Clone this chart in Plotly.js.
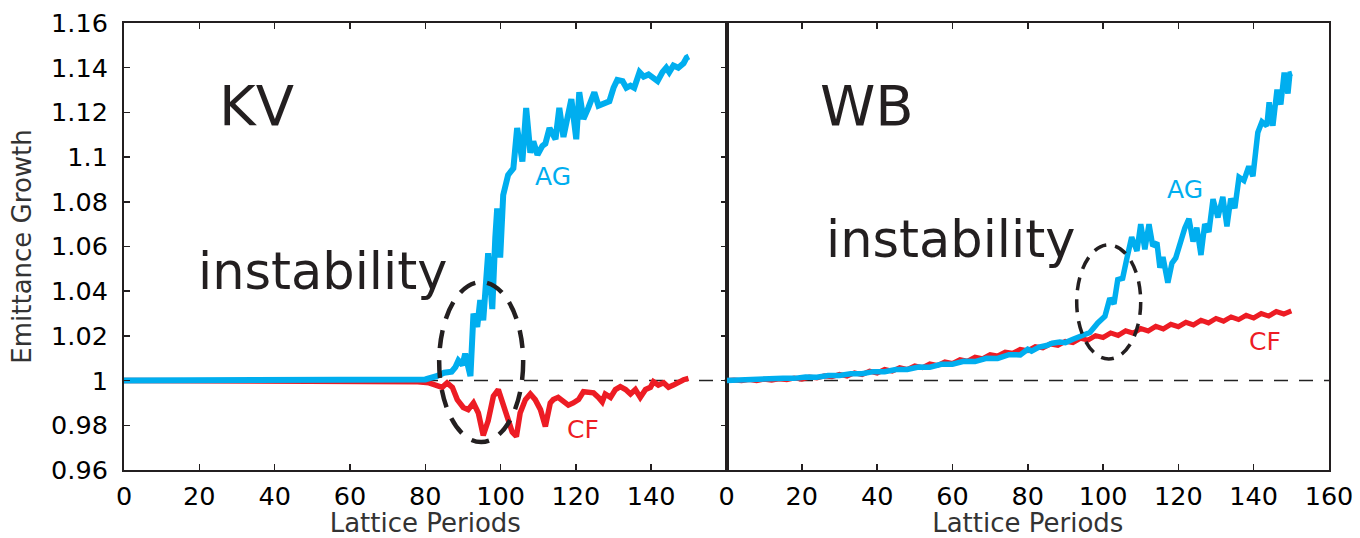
<!DOCTYPE html>
<html>
<head>
<meta charset="utf-8">
<script src="https://cdn.plot.ly/plotly-3.0.1.min.js"></script>
<style>html,body{margin:0;padding:0;background:#fff;}#chart{width:1360px;height:538px;}</style>
</head>
<body>
<div id="chart"></div>
<script>
// ---- KV panel ----
const kvAgX = [0,20,40,60,75,80,83,85,87,88,88.8,89.9,90.6,91.2,92,92.8,93.8,94.6,95.4,96.7,97.8,98.6,99.1,99.9,100.7,102,103.4,104.4,105.8,106.8,107.9,108.7,109.8,111.1,111.9,113,114.6,115.6,116.7,118.8,120.1,120.9,122,123.3,124.9,126,127.3,128.9,130,131,132.4,133.4,134.5,135.5,136.9,138,139.3,140.6,141.7,143,144,144.8,145.9,147.2,148.6,149.4,150];
const kvAgY = [1,1,1,1,1.0003,1.0005,1.002,1.0035,1.004,1.006,1.009,1.007,1.012,1.007,1.002,1.030,1.024,1.036,1.027,1.057,1.032,1.064,1.077,1.055,1.083,1.092,1.095,1.113,1.098,1.122,1.102,1.107,1.101,1.105,1.106,1.113,1.108,1.122,1.109,1.126,1.108,1.129,1.117,1.122,1.129,1.123,1.124,1.125,1.131,1.1345,1.134,1.131,1.132,1.131,1.138,1.136,1.137,1.135,1.134,1.138,1.140,1.138,1.141,1.140,1.142,1.1445,1.145];
const kvCfX = [0,40,78,81,83,84.5,85.8,87.2,88.5,90.1,91.4,92.8,94.1,95.4,96.7,98.1,99.4,100.7,101.8,103.1,104.2,105.2,106.6,107.9,109.2,110.6,111.9,113.2,114,115.3,116.7,118,119.3,120.7,122,123.3,124.7,126,127,127.8,129.2,130.5,131.8,133.2,134.5,135.8,137.1,138.5,139.8,140.6,141.9,143.3,144.6,145.9,147.2,148.6,149.9];
const kvCfY = [1,1,0.9995,0.999,0.998,0.997,0.999,0.997,0.9915,0.988,0.987,0.990,0.9855,0.9755,0.982,0.993,0.996,0.990,0.9837,0.977,0.975,0.9855,0.9915,0.994,0.9915,0.987,0.9795,0.990,0.9915,0.9925,0.9905,0.989,0.990,0.9915,0.995,0.9945,0.9945,0.9925,0.9905,0.994,0.9925,0.996,0.9973,0.996,0.994,0.996,0.9925,0.996,0.997,0.9995,0.998,0.999,0.997,0.998,0.9995,1.0004,1.001];

// ---- WB panel ----
const wbCfX = [0,2,4,6,8,10,12,14,16,18,20,22,24,26,28,30,32,34,36,38,40,42,44,46,48,50,52,54,56,58,60,62,64,66,68,70,72,74,76,78,80,82,84,86,88,90,92,94,96,98,100,102,104,106,108,110,112,114,116,118,120,122,124,126,128,130,132,134,136,138,140,142,144,146,148,150];
const wbCfY = [1.0000,1.0003,0.9999,1.0005,1.0000,1.0006,1.0002,1.0008,1.0004,1.0011,1.0006,1.0016,1.0012,1.0021,1.0017,1.0028,1.0020,1.0035,1.0027,1.0042,1.0034,1.0050,1.0042,1.0058,1.0050,1.0066,1.0058,1.0075,1.0068,1.0084,1.0077,1.0094,1.0087,1.0105,1.0098,1.0116,1.0110,1.0128,1.0122,1.0140,1.0134,1.0152,1.0146,1.0164,1.0158,1.0176,1.0170,1.0189,1.0181,1.0201,1.0193,1.0213,1.0202,1.0223,1.0212,1.0233,1.0222,1.0243,1.0231,1.0252,1.0241,1.0261,1.0249,1.0270,1.0258,1.0278,1.0266,1.0285,1.0273,1.0292,1.0280,1.0300,1.0289,1.0309,1.0298,1.0312];
const wbAgX = [0,3,6,9,12,15,18,21,24,27,30,33,36,39,42,45,48,51,54,57,60,63,66,69,72,75,78,80,81,83,85,86.5,88.5,90,92,94.4,96.5,98.6,100.5,101.8,102.9,103.9,105.2,106.3,107.6,109,110,111.1,112.2,113.2,114.3,115.1,115.9,117.2,118.3,119.3,120.7,121.7,122.8,123.9,124.9,126,127,128.1,129.2,130.5,131.8,132.9,133.9,135,136.1,137.4,138.7,139.8,141.1,142.2,143.5,144.1,145.1,146.2,147.2,148.1,149.1,149.6,150.2];
const wbAgY = [1.0000,1.0003,1.0003,1.0007,1.0006,1.0011,1.0010,1.0016,1.0015,1.0023,1.0023,1.0031,1.0031,1.0040,1.0040,1.0050,1.0050,1.0061,1.0060,1.0073,1.0073,1.0086,1.0085,1.0100,1.0099,1.0116,1.0115,1.0140,1.0132,1.0150,1.0157,1.0167,1.0173,1.0170,1.0185,1.0202,1.0215,1.0258,1.0288,1.0368,1.0343,1.0452,1.0458,1.0545,1.0642,1.0580,1.0700,1.0588,1.0700,1.0602,1.0618,1.0505,1.0553,1.0438,1.0526,1.0549,1.0638,1.0682,1.0724,1.0622,1.0684,1.0562,1.0700,1.0665,1.0812,1.0730,1.0822,1.0690,1.0814,1.0772,1.0910,1.0895,1.0958,1.0915,1.1110,1.1158,1.1140,1.1245,1.1140,1.1302,1.1235,1.1378,1.1285,1.1372,1.1375];

// ---- ticks ----
const xTicksLeft = [0,20,40,60,80,100,120,140];
const xTicksRight = [0,20,40,60,80,100,120,140,160];
const yTickVals = [0.96,0.98,1.00,1.02,1.04,1.06,1.08,1.10,1.12,1.14,1.16];
const yTickText = ['0.96','0.98','1','1.02','1.04','1.06','1.08','1.1','1.12','1.14','1.16'];

const BLUE = '#00AEEF', RED = '#ED1C24', INK = '#231F20';
const FONT = 'DejaVu Sans, Verdana, sans-serif';

const traces = [
  {x: kvCfX, y: kvCfY, xaxis:'x', yaxis:'y', mode:'lines', line:{color:RED, width:5.5}, hoverinfo:'skip'},
  {x: kvAgX, y: kvAgY, xaxis:'x', yaxis:'y', mode:'lines', line:{color:BLUE, width:6}, hoverinfo:'skip'},
  {x: wbCfX, y: wbCfY, xaxis:'x2', yaxis:'y2', mode:'lines', line:{color:RED, width:5}, hoverinfo:'skip'},
  {x: wbAgX, y: wbAgY, xaxis:'x2', yaxis:'y2', mode:'lines', line:{color:BLUE, width:5.5}, hoverinfo:'skip'}
];

const xCommon = {
  range:[0,160], ticks:'inside', ticklen:6, tickwidth:1.5, tickcolor:INK,
  showline:true, linewidth:2, linecolor:INK, mirror:'ticks', showgrid:false, zeroline:false,
  tickfont:{family:FONT, size:25.5, color:'#000'}, ticklabelstandoff:2,
  title:{text:'Lattice Periods', font:{family:FONT, size:26, color:'#333'}, standoff:4}
};

const layout = {
  width:1360, height:538,
  margin:{l:124, r:31, t:23, b:68},
  paper_bgcolor:'#fff', plot_bgcolor:'#fff',
  showlegend:false,
  font:{family:FONT},
  xaxis: Object.assign({}, xCommon, {domain:[0,0.5], anchor:'y', tickvals:xTicksLeft}),
  xaxis2: Object.assign({}, xCommon, {domain:[0.5,1], anchor:'y2', tickvals:xTicksRight}),
  yaxis: {
    domain:[0,1], anchor:'x', range:[0.96,1.16], tickvals:yTickVals, ticktext:yTickText,
    ticks:'inside', ticklen:6, tickwidth:1.5, tickcolor:INK,
    showline:true, linewidth:2, linecolor:INK, mirror:'ticks', showgrid:false, zeroline:false,
    tickfont:{family:FONT, size:25.5, color:'#000'}, ticklabelstandoff:9,
    title:{text:'Emittance Growth', font:{family:FONT, size:26, color:'#333'}, standoff:12}
  },
  yaxis2: {
    domain:[0,1], anchor:'x2', range:[0.96,1.16], showticklabels:false, ticks:'',
    showline:true, linewidth:2, linecolor:INK, mirror:true, showgrid:false, zeroline:false
  },
  shapes: [
    {type:'line', xref:'paper', yref:'y', x0:0, x1:1, y0:1, y1:1, layer:'below',
     line:{color:'#222', width:1.5, dash:'14px,11px'}},
    {type:'circle', xref:'x', yref:'y', x0:83.7, x1:106, y0:0.9725, y1:1.0441, layer:'above',
     line:{color:INK, width:4.5, dash:'18px,12px'}},
    {type:'circle', xref:'x2', yref:'y2', x0:93, x1:110, y0:1.0097, y1:1.0607, layer:'above',
     line:{color:INK, width:3.5, dash:'13px,9px'}}
  ],
  annotations: [
    {xref:'x', yref:'y', x:35.3, y:1.1229, text:'KV', showarrow:false, font:{family:FONT, size:56, color:INK}},
    {xref:'x2', yref:'y2', x:37.2, y:1.1229, text:'WB', showarrow:false, font:{family:FONT, size:56, color:INK}},
    {xref:'x', yref:'y', x:52.6, y:1.049, text:'instability', showarrow:false, font:{family:FONT, size:51, color:INK}},
    {xref:'x2', yref:'y2', x:59.5, y:1.0631, text:'instability', showarrow:false, font:{family:FONT, size:51, color:INK}},
    {xref:'x', yref:'y', x:114.0, y:1.0915, text:'AG', showarrow:false, font:{family:FONT, size:25, color:BLUE}},
    {xref:'x', yref:'y', x:122.0, y:0.9783, text:'CF', showarrow:false, font:{family:FONT, size:25, color:RED}},
    {xref:'x2', yref:'y2', x:121.7, y:1.0853, text:'AG', showarrow:false, font:{family:FONT, size:25, color:BLUE}},
    {xref:'x2', yref:'y2', x:143.0, y:1.0173, text:'CF', showarrow:false, font:{family:FONT, size:25, color:RED}}
  ]
};

Plotly.newPlot('chart', traces, layout, {displayModeBar:false, staticPlot:true});
</script>
</body>
</html>
